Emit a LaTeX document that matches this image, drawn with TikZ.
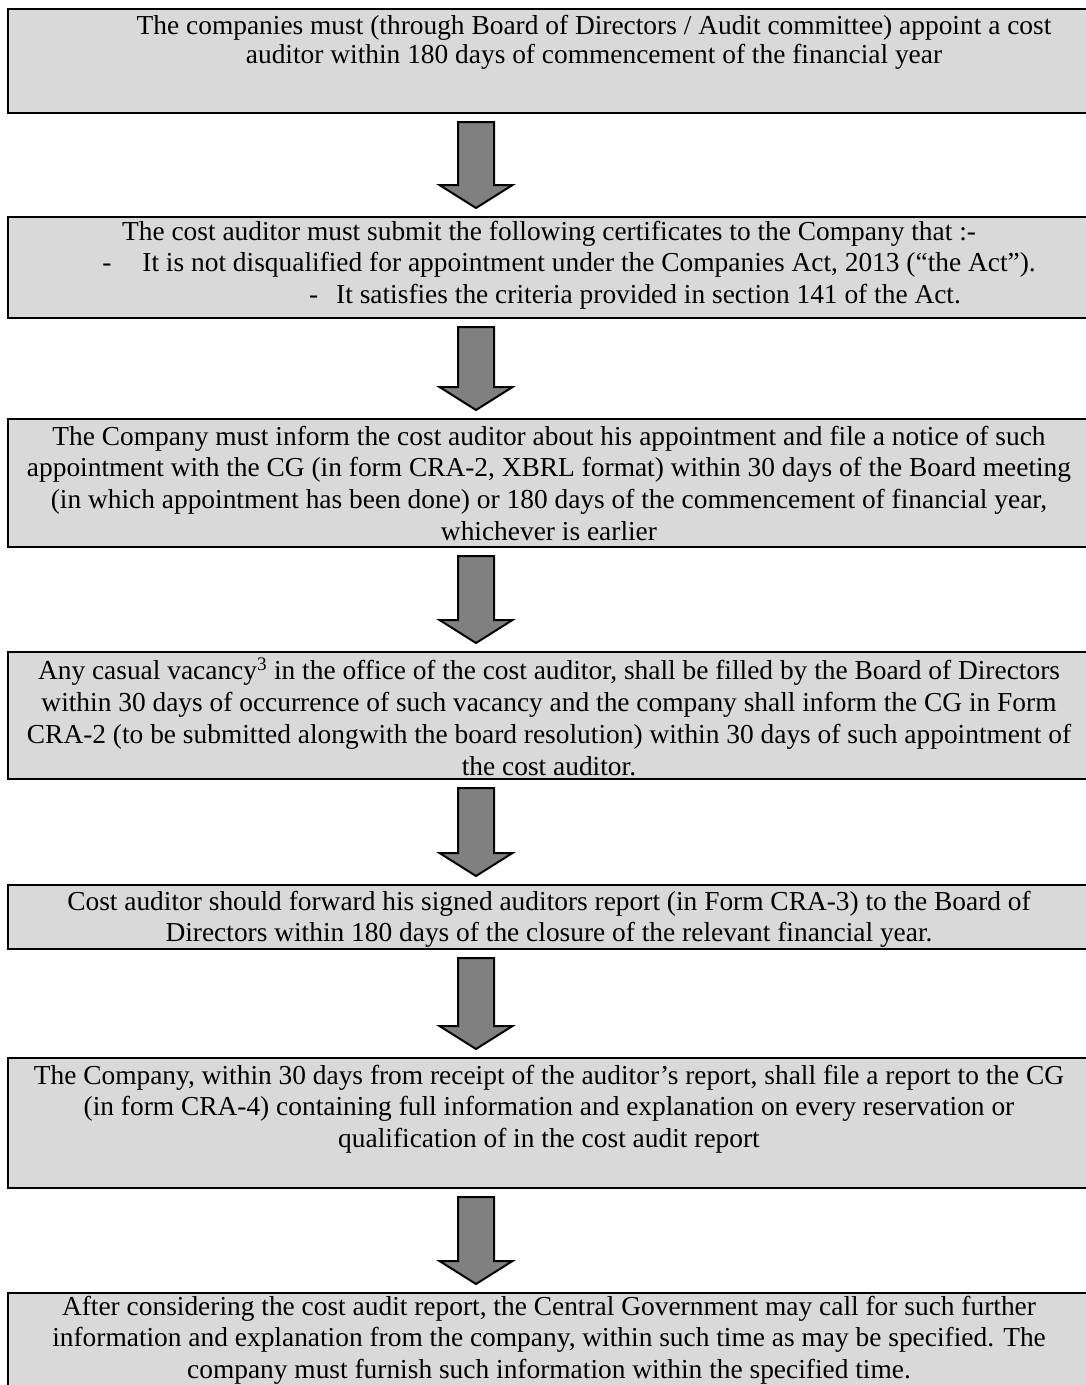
\documentclass[tikz,border=0pt]{standalone}
\usepackage{fontspec}
\setmainfont{Liberation Serif}
\usetikzlibrary{calc}
\definecolor{boxgray}{HTML}{D9D9D9}
\definecolor{arrowgray}{HTML}{808080}
% fixed height for the first line, so the first baseline sits 20pt below the node top
\newcommand\firstline{\rule{0pt}{20pt}}
\tikzset{
  stage/.style={draw=black, line width=2.8pt, fill=boxgray, inner sep=0pt,
    outer sep=0pt, anchor=north west, minimum width=1082pt},
  stagetext/.style={anchor=north, inner sep=0pt, align=center,
    font=\fontsize{27.4}{31.7}\selectfont},
  blockarrow/.style={draw=black, line width=2pt, fill=arrowgray, line join=miter},
}
% block arrow from the bottom of one stage to the top of the next
\newcommand\flowarrow[2]{%
  \draw[blockarrow]
    ($(#1.south -| ax)+(-18,9)$) -- ($(#1.south -| ax)+(18,9)$)
    -- ($(#2.north -| ax)+(18,-32)$) -- ($(#2.north -| ax)+(36.5,-32)$)
    -- ($(#2.north -| ax)+(0,-9)$)
    -- ($(#2.north -| ax)+(-36.5,-32)$) -- ($(#2.north -| ax)+(-18,-32)$)
    -- cycle;}
\begin{document}
\begin{tikzpicture}[x=1pt,y=-1pt]
  \useasboundingbox (0,0) rectangle (1086,1385);
  \clip (0,0) rectangle (1086,1385);
  \fill[white] (0,0) rectangle (1086,1385);
  \coordinate (ax) at (476,0);

  % stages
  \node[stage, minimum height=104pt] (b1) at (8,9) {};
  \node[stage, minimum height=101pt] (b2) at (8,217) {};
  \node[stage, minimum height=128pt] (b3) at (8,419) {};
  \node[stage, minimum height=127pt] (b4) at (8,652) {};
  \node[stage, minimum height=64pt]  (b5) at (8,885) {};
  \node[stage, minimum height=130pt] (b6) at (8,1058) {};
  \node[stage, minimum height=130pt] (b7) at (8,1293) {};

  % texts
  \node[stagetext, font=\fontsize{27.4}{29}\selectfont] (t1) at ($(b1.north west)+(586,5)$)
    {\firstline The companies must (through Board of Directors / Audit committee) appoint a cost\\
     auditor within 180 days of commencement of the financial year};
  \node[stagetext] (t2) at ($(b2.north)+(0,3)$)
    {\firstline The cost auditor must submit the following certificates to the Company that :-\\
     -\hspace{31pt}It is not disqualified for appointment under the Companies Act, 2013 (“the Act”).\kern-40pt\\
     -\hspace{18pt}It satisfies the criteria provided in section 141 of the Act.\kern-172pt};
  \node[stagetext] (t3) at ($(b3.north)+(0,6)$)
    {\firstline The Company must inform the cost auditor about his appointment and file a notice of such\\
     appointment with the CG (in form CRA-2, XBRL format) within 30 days of the Board meeting\\
     (in which appointment has been done) or 180 days of the commencement of financial year,\\
     whichever is earlier};
  \node[stagetext] (t4) at ($(b4.north)+(0,6)$)
    {\firstline Any casual vacancy\textsuperscript{3} in the office of the cost auditor, shall be filled by the Board of Directors\\
     within 30 days of occurrence of such vacancy and the company shall inform the CG in Form\\
     CRA-2 (to be submitted alongwith the board resolution) within 30 days of such appointment of\\
     the cost auditor.};
  \node[stagetext] (t5) at ($(b5.north)+(0,5)$)
    {\firstline Cost auditor should forward his signed auditors report (in Form CRA-3) to the Board of\\
     Directors within 180 days of the closure of the relevant financial year.};
  \node[stagetext] (t6) at ($(b6.north)+(0,6)$)
    {\firstline The Company, within 30 days from receipt of the auditor’s report, shall file a report to the CG\\
     (in form CRA-4) containing full information and explanation on every reservation or\\
     qualification of in the cost audit report};
  \node[stagetext] (t7) at ($(b7.north)+(0,2)$)
    {\firstline After considering the cost audit report, the Central Government may call for such further\\
     information and explanation from the company, within such time as may be specified. The\\
     company must furnish such information within the specified time.};

  % connectors
  \flowarrow{b1}{b2}
  \flowarrow{b2}{b3}
  \flowarrow{b3}{b4}
  \flowarrow{b4}{b5}
  \flowarrow{b5}{b6}
  \flowarrow{b6}{b7}
\end{tikzpicture}
\end{document}
